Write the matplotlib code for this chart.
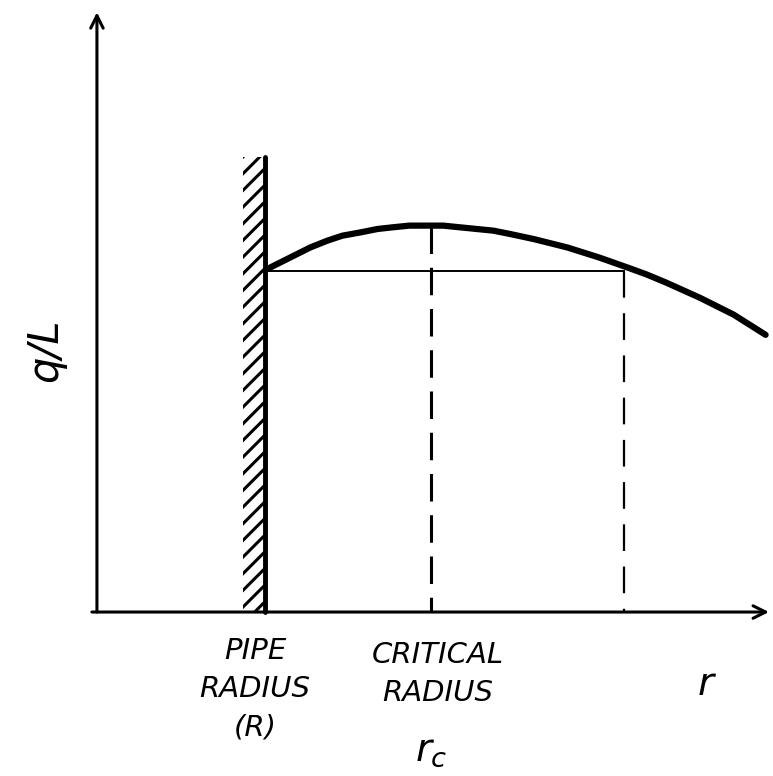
import matplotlib
matplotlib.use("Agg")
import matplotlib.pyplot as plt
from matplotlib.patches import Rectangle

# ---- data (sketch units: pipe radius R = 1) ----
r_curve = [1.03, 1.09, 1.17, 1.27, 1.37, 1.46, 1.57, 1.67, 1.76, 1.86, 1.96, 2.06,
           2.16, 2.26, 2.36, 2.46, 2.60, 2.80, 2.99, 3.16, 3.27, 3.39, 3.59, 3.79, 3.98]
q_curve = [2.05, 2.08, 2.12, 2.17, 2.21, 2.24, 2.26, 2.28, 2.29, 2.30, 2.30, 2.30,
           2.29, 2.28, 2.27, 2.25, 2.22, 2.17, 2.11, 2.05, 2.01, 1.96, 1.87, 1.77, 1.65]
R_pipe = 1.0
r_crit = 1.99
q_crit = 2.30
q_at_R = 2.03
r_equal = 3.14
wall_top = 2.71
wall_thickness = 0.13

y_label = "q/L"
pipe_label = "PIPE\nRADIUS\n(R)"
crit_label = "CRITICAL\nRADIUS"
crit_symbol = "$r_c$"
x_label = "r"

plt.rcParams["hatch.linewidth"] = 2.2
plt.rcParams["hatch.color"] = "black"

fig = plt.figure(figsize=(7.73, 7.76), dpi=100)
ax = fig.add_axes([0, 0, 1, 1])
ax.set_xlim(-0.577, 4.024)
ax.set_ylim(-0.976, 3.643)
ax.axis("off")

# axes arrows
arrow = dict(arrowstyle="->,head_length=0.9,head_width=0.45", lw=2.2, color="black",
             shrinkA=0, shrinkB=0)
ax.annotate("", xy=(0, 3.57), xytext=(0, 0), arrowprops=arrow)
ax.annotate("", xy=(4.0, 0), xytext=(-0.03, 0), arrowprops=arrow)

# pipe wall with hatching
ax.add_patch(Rectangle((R_pipe - wall_thickness, 0), wall_thickness, wall_top,
                       facecolor="white", edgecolor="black", linewidth=0,
                       hatch="//"))
ax.plot([R_pipe, R_pipe], [0, wall_top], color="black", lw=3.5, solid_capstyle="round")

# horizontal reference line
ax.plot([R_pipe, r_equal], [q_at_R, q_at_R], color="black", lw=1.4)

# dashed verticals (drawn from the top down)
ax.plot([r_crit, r_crit], [q_crit, 0], color="black", lw=2.2, dashes=(9, 4.5))
ax.plot([r_equal, r_equal], [q_at_R, 0], color="black", lw=1.6, dashes=(12, 7))

# heat-flow curve
ax.plot(r_curve, q_curve, color="black", lw=4.5, solid_capstyle="round",
        solid_joinstyle="round")

# labels
font = dict(family="DejaVu Sans", style="italic", color="black")
ax.text(-0.31, 1.56, y_label, rotation=90, ha="center", va="center", fontsize=30, **font)
ax.text(0.94, -0.46, pipe_label, ha="center", va="center", fontsize=21,
        linespacing=1.45, **font)
ax.text(2.03, -0.37, crit_label, ha="center", va="center", fontsize=21,
        linespacing=1.45, **font)
ax.text(1.99, -0.82, crit_symbol, ha="center", va="center", fontsize=28, **font)
ax.text(3.62, -0.43, x_label, ha="center", va="center", fontsize=28, **font)

fig.savefig("out.png", dpi=100)
